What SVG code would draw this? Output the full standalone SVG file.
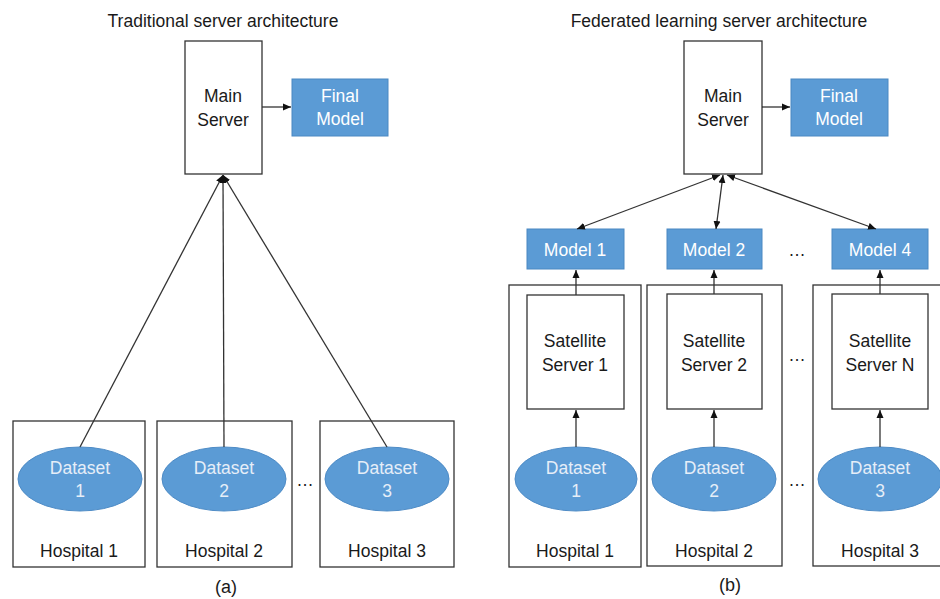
<svg xmlns="http://www.w3.org/2000/svg" width="940" height="599" viewBox="0 0 940 599">
  <style>
    text { font-family: "Liberation Sans", Arial, sans-serif; font-size: 17.5px; fill: #1a1a1a; text-anchor: middle; }
    .white { fill: #ffffff; }
    .light { fill: #e6eef8; }
    .box { fill: #ffffff; stroke: #333333; stroke-width: 1.3; }
    .blue { fill: #5b9bd5; stroke: #4a88c2; stroke-width: 1; }
    .ds { fill: #5b9bd5; stroke: #4f8cc6; stroke-width: 1; }
    .conn { fill: none; stroke: #333333; stroke-width: 1.3; }
    .cap { font-size: 18px; }
  </style>
  <defs>
    <marker id="arrow" markerUnits="userSpaceOnUse" markerWidth="9" markerHeight="8" refX="8" refY="4" orient="auto-start-reverse">
      <path d="M0,0.5 L8,4 L0,7.5 Z" fill="#111111"/>
    </marker>
  </defs>

  <rect width="940" height="599" fill="#ffffff"/>

  <!-- (a) traditional architecture -->
  <text x="223" y="27">Traditional server architecture</text>

  <g id="a-main-server">
    <rect class="box" x="185" y="41" width="77" height="133"/>
    <text x="223" y="102">Main</text>
    <text x="223" y="126">Server</text>
  </g>
  <g id="a-final-model">
    <rect class="blue" x="292" y="79" width="96" height="57"/>
    <text class="white" x="340" y="102">Final</text>
    <text class="white" x="340" y="125">Model</text>
  </g>

  <g id="a-hospital-1">
    <rect class="box" x="13" y="421" width="132" height="146"/>
    <ellipse class="ds" cx="80" cy="479" rx="62" ry="32"/>
    <text class="light" x="80" y="474">Dataset</text>
    <text class="light" x="80" y="497">1</text>
    <text x="79" y="557">Hospital 1</text>
  </g>
  <g id="a-hospital-2">
    <rect class="box" x="157" y="421" width="135" height="146"/>
    <ellipse class="ds" cx="224" cy="479" rx="62" ry="32"/>
    <text class="light" x="224" y="474">Dataset</text>
    <text class="light" x="224" y="497">2</text>
    <text x="224" y="557">Hospital 2</text>
  </g>
  <g id="a-hospital-3">
    <rect class="box" x="320" y="421" width="134" height="146"/>
    <ellipse class="ds" cx="387" cy="479" rx="62" ry="32"/>
    <text class="light" x="387" y="474">Dataset</text>
    <text class="light" x="387" y="497">3</text>
    <text x="387" y="557">Hospital 3</text>
  </g>
  <text x="305" y="486">…</text>
  <text class="cap" x="226" y="593">(a)</text>

  <!-- (b) federated learning architecture -->
  <text x="719" y="27">Federated learning server architecture</text>

  <g id="b-main-server">
    <rect class="box" x="684" y="41" width="78" height="133"/>
    <text x="723" y="102">Main</text>
    <text x="723" y="126">Server</text>
  </g>
  <g id="b-final-model">
    <rect class="blue" x="791" y="79" width="97" height="57"/>
    <text class="white" x="839" y="102">Final</text>
    <text class="white" x="839" y="125">Model</text>
  </g>

  <g id="b-model-1">
    <rect class="blue" x="527" y="229" width="97" height="40"/>
    <text class="white" x="575" y="256">Model 1</text>
  </g>
  <g id="b-model-2">
    <rect class="blue" x="667" y="229" width="95" height="40"/>
    <text class="white" x="714" y="256">Model 2</text>
  </g>
  <g id="b-model-4">
    <rect class="blue" x="832" y="229" width="96" height="40"/>
    <text class="white" x="880" y="256">Model 4</text>
  </g>
  <text x="797" y="256">…</text>

  <g id="b-hospital-1">
    <rect class="box" x="509" y="285" width="132" height="282"/>
    <rect class="box" x="527" y="295" width="97" height="114"/>
    <text x="575" y="347">Satellite</text>
    <text x="575" y="371">Server 1</text>
    <ellipse class="ds" cx="576" cy="479" rx="61" ry="32"/>
    <text class="light" x="576" y="474">Dataset</text>
    <text class="light" x="576" y="497">1</text>
    <text x="575" y="557">Hospital 1</text>
  </g>
  <g id="b-hospital-2">
    <rect class="box" x="647" y="285" width="135" height="281"/>
    <rect class="box" x="667" y="294" width="95" height="115"/>
    <text x="714" y="347">Satellite</text>
    <text x="714" y="371">Server 2</text>
    <ellipse class="ds" cx="714" cy="479" rx="62" ry="32"/>
    <text class="light" x="714" y="474">Dataset</text>
    <text class="light" x="714" y="497">2</text>
    <text x="714" y="557">Hospital 2</text>
  </g>
  <g id="b-hospital-3">
    <rect class="box" x="813" y="285" width="140" height="281"/>
    <rect class="box" x="832" y="294" width="96" height="115"/>
    <text x="880" y="347">Satellite</text>
    <text x="880" y="371">Server N</text>
    <ellipse class="ds" cx="880" cy="479" rx="62" ry="32"/>
    <text class="light" x="880" y="474">Dataset</text>
    <text class="light" x="880" y="497">3</text>
    <text x="880" y="557">Hospital 3</text>
  </g>
  <text x="797" y="361">…</text>
  <text x="797" y="486">…</text>
  <text class="cap" x="730" y="591">(b)</text>

  <!-- connectors -->
  <g id="connectors">
    <line class="conn" x1="262" y1="107" x2="291" y2="107" marker-end="url(#arrow)"/>
    <line class="conn" x1="80" y1="447" x2="223" y2="175" marker-end="url(#arrow)"/>
    <line class="conn" x1="224" y1="447" x2="223" y2="175" marker-end="url(#arrow)"/>
    <line class="conn" x1="387" y1="447" x2="223" y2="175" marker-end="url(#arrow)"/>

    <line class="conn" x1="762" y1="107" x2="790" y2="107" marker-end="url(#arrow)"/>
    <line class="conn" x1="577" y1="229" x2="720" y2="175" marker-start="url(#arrow)" marker-end="url(#arrow)"/>
    <line class="conn" x1="716" y1="229" x2="723" y2="175" marker-start="url(#arrow)" marker-end="url(#arrow)"/>
    <line class="conn" x1="876" y1="229" x2="727" y2="175" marker-start="url(#arrow)" marker-end="url(#arrow)"/>

    <line class="conn" x1="576" y1="295" x2="576" y2="270" marker-end="url(#arrow)"/>
    <line class="conn" x1="714" y1="294" x2="714" y2="270" marker-end="url(#arrow)"/>
    <line class="conn" x1="880" y1="294" x2="880" y2="270" marker-end="url(#arrow)"/>

    <line class="conn" x1="576" y1="447" x2="576" y2="410" marker-end="url(#arrow)"/>
    <line class="conn" x1="714" y1="447" x2="714" y2="410" marker-end="url(#arrow)"/>
    <line class="conn" x1="880" y1="447" x2="880" y2="410" marker-end="url(#arrow)"/>
  </g>
</svg>
